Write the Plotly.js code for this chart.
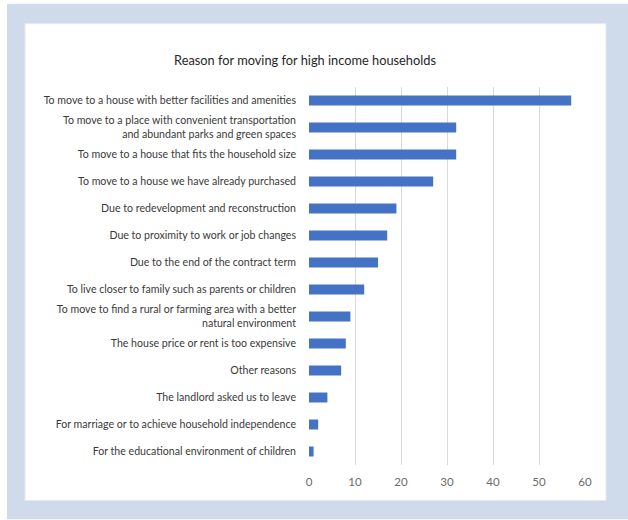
<!DOCTYPE html>
<html>
<head>
<meta charset="utf-8">
<script src="https://cdn.plot.ly/plotly-3.0.1.min.js"></script>
<style>html,body{margin:0;padding:0;background:#fff;}</style>
</head>
<body>
<div id="chart" style="width:628px;height:520px;"></div>
<script>
const categories = [
  "To move to a house with better facilities and amenities",
  "To move to a place with convenient transportation<br>and abundant parks and green spaces",
  "To move to a house that fits the household size",
  "To move to a house we have already purchased",
  "Due to redevelopment and reconstruction",
  "Due to proximity to work or job changes",
  "Due to the end of the contract term",
  "To live closer to family such as parents or children",
  "To move to find a rural or farming area with a better<br>natural environment",
  "The house price or rent is too expensive",
  "Other reasons",
  "The landlord asked us to leave",
  "For marriage or to achieve household independence",
  "For the educational environment of children"
];
const values = [57, 32, 32, 27, 19, 17, 15, 12, 9, 8, 7, 4, 2, 1];
const xTicks = [0, 10, 20, 30, 40, 50, 60];
const chartTitle = "Reason for moving for high income households";

const L = 309, R = 43, T = 86.5, B = 54.5, W = 628, H = 520;
const pw = W - L - R, ph = H - T - B;
const px = v => (v - L) / pw;
const py = v => (H - B - v) / ph;

const trace = {
  type: "bar",
  orientation: "h",
  x: values,
  y: categories,
  marker: {color: "#4472c4"},
  hoverinfo: "x+y"
};

const layout = {
  width: W, height: H,
  margin: {l: L, r: R, t: T, b: B, pad: 0},
  paper_bgcolor: "#ffffff",
  plot_bgcolor: "rgba(0,0,0,0)",
  font: {family: "Lato, 'Open Sans', sans-serif", color: "#333333"},
  title: {
    text: chartTitle,
    x: 305 / W, xanchor: "center", xref: "container",
    y: 1 - 61 / H, yanchor: "middle", yref: "container",
    font: {size: 12.8, color: "#262626", family: "Lato, sans-serif"}
  },
  bargap: 0.63,
  showlegend: false,
  xaxis: {
    range: [0, 60],
    tickvals: xTicks,
    showgrid: true,
    gridcolor: "#d9d9d9",
    gridwidth: 1,
    zeroline: false,
    showline: false,
    ticks: "",
    tickfont: {size: 11.5, color: "#6b6b6b"},
    ticklabelstandoff: 8,
    fixedrange: true
  },
  yaxis: {
    type: "category",
    autorange: "reversed",
    showgrid: false,
    zeroline: false,
    showline: false,
    ticks: "",
    tickfont: {size: 10.6, color: "#3a3a3a"},
    ticklabelstandoff: 12,
    fixedrange: true
  },
  shapes: [
    {type: "rect", xref: "paper", yref: "paper", layer: "below",
     x0: px(7), x1: px(628), y0: py(520), y1: py(3),
     fillcolor: "#cfdbeb", line: {width: 0}},
    {type: "rect", xref: "paper", yref: "paper", layer: "below",
     x0: px(25), x1: px(606), y0: py(501), y1: py(23),
     fillcolor: "#ffffff", line: {color: "#e4e9f0", width: 1}}
  ]
};

Plotly.newPlot("chart", [trace], layout, {displayModeBar: false, staticPlot: true});
</script>
</body>
</html>
